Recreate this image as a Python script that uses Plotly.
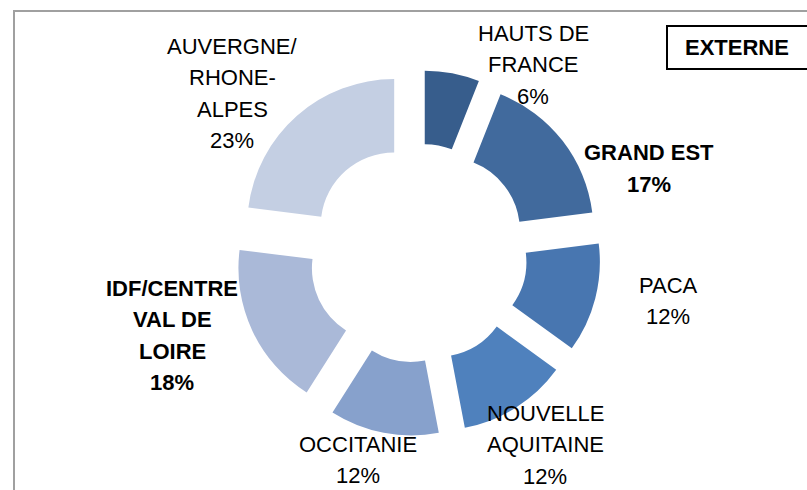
import plotly.graph_objects as go

W, H = 807, 490

regions = ["HAUTS DE FRANCE", "GRAND EST", "PACA", "NOUVELLE AQUITAINE",
           "OCCITANIE", "IDF/CENTRE VAL DE LOIRE", "AUVERGNE/ RHONE-ALPES"]
percents = [6, 17, 12, 12, 12, 18, 23]
colors = ["#375d8c", "#416a9d", "#4876b0", "#4f81bd", "#87a1cc", "#aab9d8", "#c4cfe3"]
label_lines = [["HAUTS DE", "FRANCE", "6%"],
               ["GRAND EST", "17%"],
               ["PACA", "12%"],
               ["NOUVELLE", "AQUITAINE", "12%"],
               ["OCCITANIE", "12%"],
               ["IDF/CENTRE", "VAL DE", "LOIRE", "18%"],
               ["AUVERGNE/", "RHONE-", "ALPES", "23%"]]
bold = [False, True, False, False, False, True, False]
# label anchor (center x, first-line y) in pixels
label_pos = [(533, 33), (649, 153), (668, 285), (545, 413),
             (358, 444), (172, 288), (232, 46)]
line_gap = 31.5

FONT = "Liberation Sans, Arial, sans-serif"
FS = 22

fig = go.Figure(go.Pie(
    labels=regions,
    values=percents,
    sort=False,
    direction="clockwise",
    rotation=0,
    hole=0.5,
    pull=[0.245] * len(percents),
    marker=dict(colors=colors, line=dict(width=0)),
    textinfo="none",
    hoverinfo="label+percent",
    showlegend=False,
    domain=dict(x=[235 / W, 601 / W], y=[1 - 436 / H, 1 - 70 / H]),
))

annotations = []
for lines, b, (px, py) in zip(label_lines, bold, label_pos):
    for i, t in enumerate(lines):
        annotations.append(dict(
            x=px / W, y=1 - (py + i * line_gap) / H, xref="paper", yref="paper",
            text=f"<b>{t}</b>" if b else t, showarrow=False,
            xanchor="center", yanchor="middle",
            font=dict(family=FONT, size=FS, color="#000000"),
        ))
annotations.append(dict(
    x=737 / W, y=1 - 47 / H, xref="paper", yref="paper",
    text="<b>EXTERNE</b>", showarrow=False, xanchor="center", yanchor="middle",
    font=dict(family=FONT, size=FS, color="#000000"),
))

shapes = [
    dict(type="rect", xref="paper", yref="paper",
         x0=14 / W, x1=1.1, y0=-0.1, y1=1 - 11 / H,
         line=dict(color="#a0a0a0", width=2), fillcolor="rgba(0,0,0,0)"),
    dict(type="rect", xref="paper", yref="paper",
         x0=667 / W, x1=1.1, y0=1 - 69 / H, y1=1 - 26 / H,
         line=dict(color="#000000", width=2), fillcolor="rgba(0,0,0,0)"),
]

fig.update_layout(
    width=W, height=H,
    margin=dict(l=0, r=0, t=0, b=0),
    paper_bgcolor="white", plot_bgcolor="white",
    annotations=annotations, shapes=shapes,
)

fig.write_html(
    "out.html",
    config={"displayModeBar": False},
    post_script="document.body.style.margin='0';document.body.style.overflow='hidden';",
)
